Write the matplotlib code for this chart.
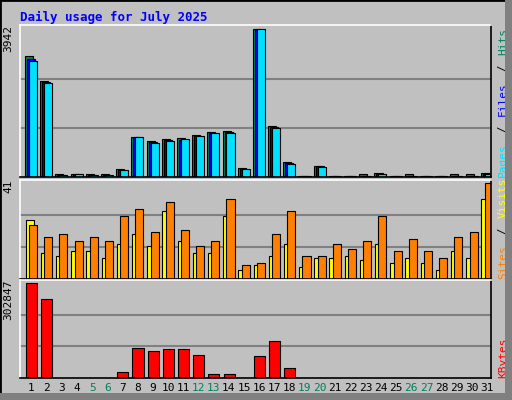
import matplotlib
matplotlib.use("Agg")
import matplotlib.pyplot as plt
from matplotlib.patches import Rectangle

days = list(range(1, 32))
weekend = [5, 6, 12, 13, 19, 20, 26, 27]

hits = [3220, 2560, 71, 71, 71, 71, 205, 1061, 954, 1008, 1035, 1115, 1195, 1222, 232,
        3942, 1356, 392, 36, 285, 36, 36, 71, 98, 36, 71, 36, 36, 71, 71, 98]
files = [3139, 2550, 50, 71, 45, 45, 196, 1061, 928, 981, 981, 1106, 1186, 1195, 223,
         3942, 1338, 365, 20, 285, 20, 20, 36, 80, 20, 36, 20, 20, 36, 36, 71]
pages = [3086, 2524, 50, 71, 45, 45, 196, 1061, 919, 972, 1026, 1106, 1186, 1186, 223,
         3942, 1320, 357, 20, 276, 20, 20, 36, 71, 20, 36, 20, 20, 36, 36, 71]

sites = [25, 11, 10, 12, 12, 9, 15, 19, 14, 29, 16, 11, 11, 27, 4,
         6, 10, 15, 5, 9, 9, 10, 8, 15, 7, 9, 7, 4, 12, 9, 34]
visits = [23, 18, 19, 16, 18, 16, 27, 30, 20, 33, 21, 14, 16, 34, 6,
          7, 19, 29, 10, 10, 15, 13, 16, 27, 12, 17, 12, 9, 18, 20, 41]

kbytes = [302847, 252190, 0, 0, 0, 0, 17620, 96910, 87000, 93600, 93600, 73800, 14300, 14300, 0,
          70480, 116730, 30840, 0, 0, 0, 0, 0, 0, 0, 0, 0, 0, 0, 0, 0]

BG = "#C0C0C0"
GREEN = "#00805C"
BLUE = "#0000FF"
CYAN = "#00E0FF"
YELLOW = "#FFFF00"
ORANGE = "#FF8000"
RED = "#FF0000"
FONT = "DejaVu Sans Mono"

W, H = 512, 400
fig = plt.figure(figsize=(W / 100, H / 100), dpi=100)
fig.patch.set_facecolor(BG)

# bevel border
fig.add_artist(Rectangle((0, 0), 1, 1, transform=fig.transFigure, fill=False,
                         edgecolor="black", linewidth=2))
fig.add_artist(Rectangle((505 / W, 0), 7 / W, 1, transform=fig.transFigure,
                         facecolor="#808080", edgecolor="none"))
fig.add_artist(Rectangle((0, 0), 1, 7 / H, transform=fig.transFigure,
                         facecolor="#808080", edgecolor="none"))

fig.text(20 / W, 1 - 17 / H, "Daily usage for July 2025", color=BLUE, family=FONT,
         fontsize=9, fontweight="bold", va="center")


def make_ax(top, bottom, ymax):
    ax = fig.add_axes([20 / W, 1 - bottom / H, 471 / W, (bottom - top) / H])
    ax.set_facecolor(BG)
    ax.set_xlim(0.5, 31.5)
    ax.set_ylim(0, ymax * 1.03)
    for frac in (1 / 3, 2 / 3):
        ax.axhline(ymax * frac, color="#808080", linewidth=1.5, zorder=0)
    ax.set_xticks([])
    ax.set_yticks([])
    for s in ax.spines.values():
        s.set_linewidth(1.2)
    ax.spines["top"].set_color("white")
    ax.spines["left"].set_color("white")
    ax.text(-0.025, 1.0, f"{ymax}", transform=ax.transAxes, rotation=90,
            ha="center", va="top", family=FONT, fontsize=8)
    return ax


def right_label(ax, parts):
    y = 0.0
    for txt, col in parts:
        ax.text(1.025, y, txt, transform=ax.transAxes, rotation=90, ha="center",
                va="bottom", color=col, family=FONT, fontsize=8)
        y += len(txt) * 0.052 * 147 / (ax.get_position().height * H)


x = [d for d in days]
ax1 = make_ax(25, 177, max(hits))
ax1.bar([d - 0.17 for d in x], hits, width=0.53, align="edge", color=GREEN, edgecolor="black", lw=0.8)
ax1.bar([d - 0.04 for d in x], files, width=0.53, align="edge", color=BLUE, edgecolor="black", lw=0.8)
ax1.bar([d + 0.09 for d in x], pages, width=0.53, align="edge", color=CYAN, edgecolor="black", lw=0.8)
right_label(ax1, [("Pages", CYAN), (" / ", "black"), ("Files", BLUE), (" / ", "black"), ("Hits", GREEN)])

ax2 = make_ax(180, 279, max(visits))
ax2.bar([d - 0.13 for d in x], sites, width=0.53, align="edge", color=YELLOW, edgecolor="black", lw=0.8)
ax2.bar([d + 0.09 for d in x], visits, width=0.53, align="edge", color=ORANGE, edgecolor="black", lw=0.8)
right_label(ax2, [("Sites", ORANGE), (" / ", "black"), ("Visits", YELLOW)])

ax3 = make_ax(280, 378, max(kbytes))
ax3.bar([d - 0.1 for d in x], kbytes, width=0.73, align="edge", color=RED, edgecolor="black", lw=0.8)
right_label(ax3, [("KBytes", RED)])

for d in days:
    ax3.text(d + 0.25, -0.1, str(d), transform=ax3.get_xaxis_transform(), ha="center",
             va="center", family=FONT, fontsize=8,
             color=GREEN if d in weekend else "black")

fig.savefig("out.png", dpi=100, facecolor=BG)
